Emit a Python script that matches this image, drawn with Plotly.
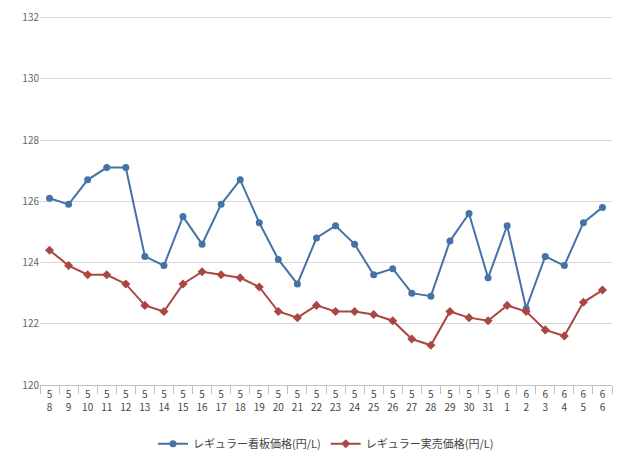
import plotly.graph_objects as go

months = ["5"] * 24 + ["6"] * 6
days = ["8", "9", "10", "11", "12", "13", "14", "15", "16", "17", "18", "19", "20", "21", "22",
        "23", "24", "25", "26", "27", "28", "29", "30", "31", "1", "2", "3", "4", "5", "6"]
labels = [m + "<br>" + d for m, d in zip(months, days)]

board = [126.1, 125.9, 126.7, 127.1, 127.1, 124.2, 123.9, 125.5, 124.6, 125.9, 126.7, 125.3, 124.1, 123.3, 124.8,
         125.2, 124.6, 123.6, 123.8, 123.0, 122.9, 124.7, 125.6, 123.5, 125.2, 122.5, 124.2, 123.9, 125.3, 125.8]
actual = [124.4, 123.9, 123.6, 123.6, 123.3, 122.6, 122.4, 123.3, 123.7, 123.6, 123.5, 123.2, 122.4, 122.2, 122.6,
          122.4, 122.4, 122.3, 122.1, 121.5, 121.3, 122.4, 122.2, 122.1, 122.6, 122.4, 121.8, 121.6, 122.7, 123.1]

fig = go.Figure()
fig.add_trace(go.Scatter(x=labels, y=board, name="レギュラー看板価格(円/L)", mode="lines+markers",
                         line=dict(color="#4572a7", width=2), marker=dict(symbol="circle", size=7)))
fig.add_trace(go.Scatter(x=labels, y=actual, name="レギュラー実売価格(円/L)", mode="lines+markers",
                         line=dict(color="#aa4643", width=2), marker=dict(symbol="diamond", size=7)))

fig.update_layout(
    width=640, height=459, plot_bgcolor="white", paper_bgcolor="white",
    margin=dict(l=32, r=36, t=8, b=82, autoexpand=False),
    font=dict(family="Noto Sans CJK JP", size=10, color="#444"),
    legend=dict(orientation="h", x=0.5, xanchor="center", y=-0.12, yanchor="top", font=dict(size=11)),
    xaxis=dict(type="category", range=[-0.5, 29.5], showgrid=False, showline=True, linecolor="#c0c0c0",
               ticks="outside", ticklen=8, tickcolor="#c0c0c0", tickson="boundaries", tickangle=0),
    yaxis=dict(range=[120, 132.05], tickvals=[120, 122, 124, 126, 128, 130, 132],
               gridcolor="#d8d8d8", zeroline=False, tickfont=dict(color="#666")),
)

fig.write_html("out.html")
